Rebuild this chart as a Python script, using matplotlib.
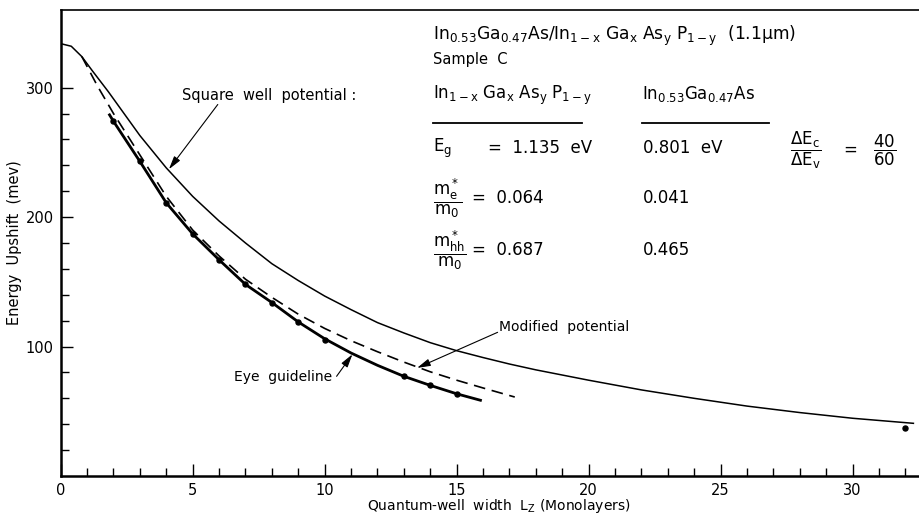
import matplotlib
matplotlib.use("Agg")

import matplotlib.pyplot as plt
from matplotlib.lines import Line2D
from matplotlib.ticker import FixedLocator

# values
# square well potential (thin solid)
sq_x = [0, 0.4, 0.8, 1.2, 1.8, 2.4, 3, 4, 5, 6, 7, 8, 9, 10, 11, 12, 13, 14,
        15, 16, 17, 18, 20, 22, 24, 26, 28, 30, 32.3]
sq_y = [334, 332, 324, 313, 297, 280, 263, 238, 216, 197, 180, 164, 151, 139,
        128.5, 118.5, 110.5, 103, 96.8, 91.5, 86.5, 82, 74, 66.5, 60, 54,
        49, 44.6, 40.7]

# modified potential (dashed)
mod_x = [0.8, 1.4, 2, 2.5, 3, 4, 5, 6, 7, 8, 9, 10, 11, 12, 13, 14, 15, 16, 17.2]
mod_y = [324, 301, 280, 264, 248, 216, 190, 170, 152, 138, 125, 114, 104.5,
         96, 88, 80.5, 74, 68, 61]

# eye guideline (thick solid)
eye_x = [1.85, 2, 3, 4, 5, 6, 7, 8, 9, 10, 11, 12, 13, 14, 15, 15.9]
eye_y = [279, 274, 243, 211, 187, 167, 148, 134, 119, 106, 95, 85.5, 77, 70,
         63.5, 58.5]

# measured points
pts_x = [2, 3, 4, 5, 6, 7, 8, 9, 10, 13, 14, 15, 32]
pts_y = [274, 243, 211, 187, 167, 148, 134, 119, 105, 77, 70, 63, 37]

x_major = [0, 5, 10, 15, 20, 25, 30]
y_major = [100, 200, 300]

plt.rcParams["font.family"] = "DejaVu Sans"
plt.rcParams["mathtext.fontset"] = "dejavusans"
plt.rcParams["mathtext.default"] = "regular"

W, H = 920, 518


def px(x, y):
    # pixel position (from top-left) -> figure fraction
    return x / W, 1 - y / H


fig = plt.figure(figsize=(W / 100, H / 100), dpi=100)
ax = fig.add_axes([60.7 / W, 42 / H, 1 - 60.7 / W, 466 / H])

ax.plot(sq_x, sq_y, color="k", lw=1.1)
ax.plot(mod_x, mod_y, color="k", lw=1.2, dashes=(7, 4))
ax.plot(eye_x, eye_y, color="k", lw=2.0)
ax.plot(pts_x, pts_y, "o", color="k", ms=3.6)

ax.set_xlim(0, 32.55)
ax.set_ylim(0, 360)

ax.xaxis.set_major_locator(FixedLocator(x_major))
ax.xaxis.set_minor_locator(FixedLocator([i for i in range(1, 33) if i % 5]))
ax.yaxis.set_major_locator(FixedLocator(y_major))
ax.yaxis.set_minor_locator(FixedLocator([v for v in range(20, 301, 20) if v % 100]))
ax.set_xticklabels([str(v) for v in x_major])
ax.set_yticklabels([str(v) for v in y_major])

ax.tick_params(which="both", direction="in", width=1.0, labelsize=10.5)
ax.tick_params(which="major", length=8.5)
ax.tick_params(which="minor", length=5.5)
ax.tick_params(axis="x", pad=5)
ax.tick_params(axis="y", pad=5)

ax.spines["right"].set_visible(False)
ax.spines["left"].set_linewidth(1.8)
ax.spines["bottom"].set_linewidth(1.8)
ax.spines["top"].set_linewidth(1.2)

ax.set_ylabel("Energy  Upshift  (mev)", fontsize=10.5)
ax.yaxis.set_label_coords(-0.045, 0.5)
ax.set_xlabel(r"Quantum-well  width  L$_Z$ (Monolayers)", fontsize=10, va="top")
ax.xaxis.set_label_coords(0.51, -0.046)

# curve labels
arrow = dict(arrowstyle="-|>,head_length=0.8,head_width=0.22", color="k",
             lw=0.8, shrinkA=0, shrinkB=0, mutation_scale=10)
ax.text(4.6, 294, "Square  well  potential :", fontsize=10.5, va="center")
ax.annotate("", xy=(4.1, 237), xytext=(5.95, 287), arrowprops=arrow)
ax.text(16.6, 115, "Modified  potential", fontsize=10, va="center")
ax.annotate("", xy=(13.5, 83.5), xytext=(16.55, 111), arrowprops=arrow)
ax.text(6.55, 76.5, "Eye  guideline", fontsize=10, va="center")
ax.annotate("", xy=(11.05, 94), xytext=(10.45, 77), arrowprops=arrow)

# parameter block
fig.text(*px(433, 40),
         r"In$_{0.53}$Ga$_{0.47}$As/In$_{1-x}$ Ga$_{x}$ As$_{y}$ P$_{1-y}$  (1.1$\mu$m)",
         fontsize=12.3, va="baseline")
fig.text(*px(433, 64), "Sample  C", fontsize=10.5, va="baseline")

fig.text(*px(433, 99), r"In$_{1-x}$ Ga$_{x}$ As$_{y}$ P$_{1-y}$",
         fontsize=12, va="baseline")
fig.text(*px(642, 99), r"In$_{0.53}$Ga$_{0.47}$As", fontsize=12, va="baseline")
for x0, x1 in [(433, 582), (642, 769)]:
    fig.add_artist(Line2D([x0 / W, x1 / W], [1 - 123 / H] * 2, color="k", lw=1.3))

fig.text(*px(433, 148), r"E$_g$", fontsize=12, va="center")
fig.text(*px(488, 148), "=  1.135  eV", fontsize=12, va="center")
fig.text(*px(643, 148), "0.801  eV", fontsize=12, va="center")

fig.text(*px(790, 150), r"$\dfrac{\Delta E_c}{\Delta E_v}$", fontsize=12, va="center")
fig.text(*px(843, 150), "=", fontsize=12, va="center")
fig.text(*px(873, 150), r"$\dfrac{40}{60}$", fontsize=12, va="center")

fig.text(*px(433, 198), r"$\dfrac{m_e^*}{m_0}$", fontsize=12, va="center")
fig.text(*px(472, 198), "=  0.064", fontsize=12, va="center")
fig.text(*px(643, 198), "0.041", fontsize=12, va="center")

fig.text(*px(433, 250), r"$\dfrac{m_{hh}^*}{m_0}$", fontsize=12, va="center")
fig.text(*px(472, 250), "=  0.687", fontsize=12, va="center")
fig.text(*px(643, 250), "0.465", fontsize=12, va="center")

fig.savefig("out.png", dpi=100)
